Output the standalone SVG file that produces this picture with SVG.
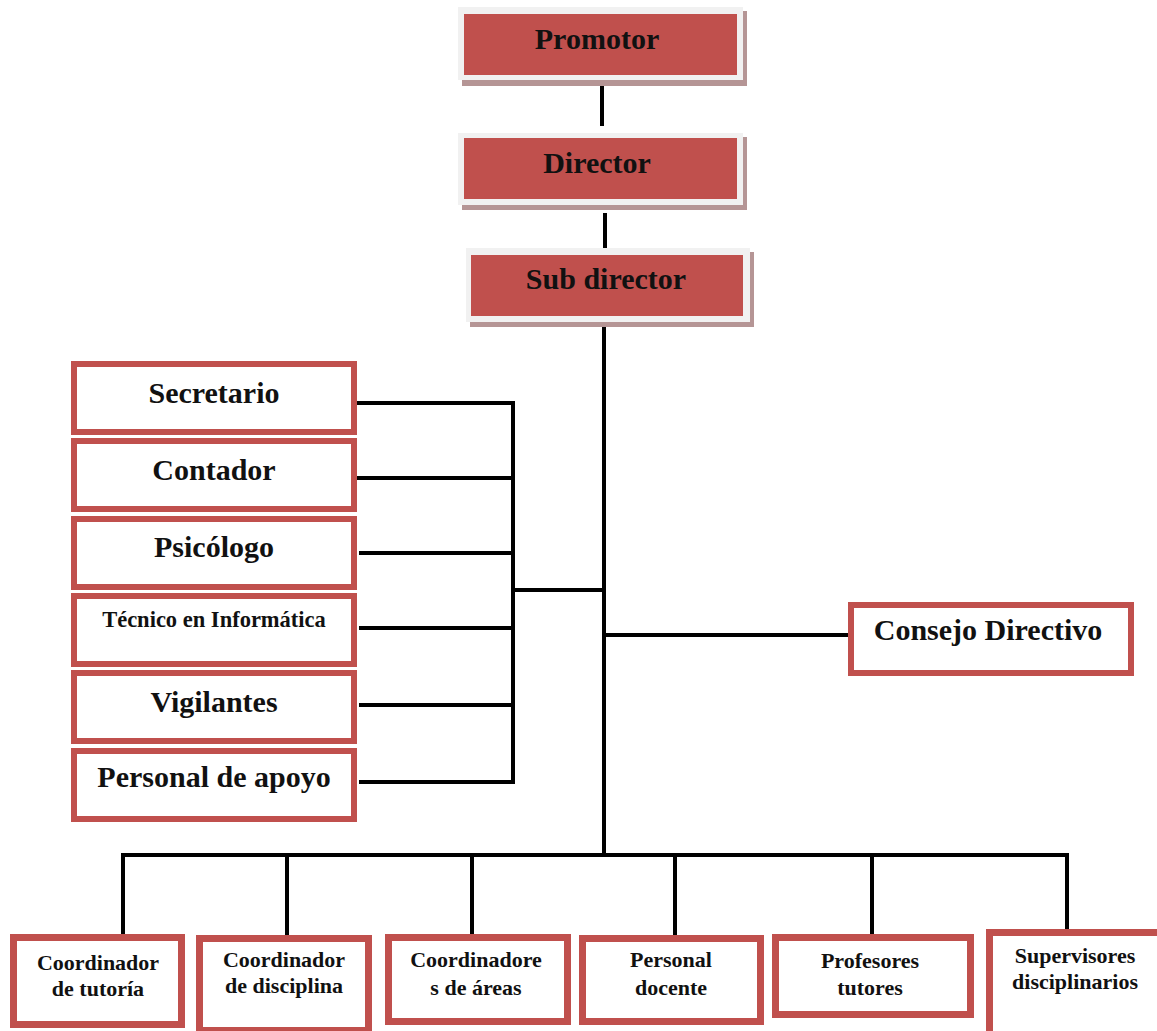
<svg xmlns="http://www.w3.org/2000/svg" width="1157" height="1031" viewBox="0 0 1157 1031">
<style>
.shadow{fill:#b59595}
.frame{fill:#f1f1f1}
.red{fill:#c0504d}
.box{fill:#ffffff;stroke:#c0504d;stroke-width:6}
.bbox{fill:#ffffff;stroke:#c0504d;stroke-width:7}
.t{font-family:'Liberation Serif','Times New Roman','DejaVu Serif',serif;font-weight:bold;fill:#111;text-anchor:middle}
.big{font-size:30px}
.small{font-size:22px}
.conn{stroke:#000;stroke-width:4;fill:none}
</style>
<rect width="1157" height="1031" fill="#ffffff"/>
<g id="connectors">
<line class="conn" x1="602" y1="86" x2="602" y2="126"/>
<line class="conn" x1="605" y1="213" x2="605" y2="252"/>
<line class="conn" x1="604" y1="324" x2="604" y2="857"/>
<polyline class="conn" points="357,403 513,403 513,782 359,782"/>
<line class="conn" x1="357" y1="478" x2="513" y2="478"/>
<line class="conn" x1="359" y1="553" x2="513" y2="553"/>
<line class="conn" x1="359" y1="628" x2="513" y2="628"/>
<line class="conn" x1="359" y1="705" x2="513" y2="705"/>
<line class="conn" x1="513" y1="590" x2="604" y2="590"/>
<line class="conn" x1="604" y1="635" x2="848" y2="635"/>
<polyline class="conn" points="123,935 123,855 1067,855 1067,930"/>
<line class="conn" x1="287" y1="855" x2="287" y2="935"/>
<line class="conn" x1="472" y1="855" x2="472" y2="935"/>
<line class="conn" x1="675" y1="855" x2="675" y2="935"/>
<line class="conn" x1="872" y1="855" x2="872" y2="935"/>
</g>
<g id="promotor">
<rect class="shadow" x="462" y="11" width="285" height="75"/>
<rect class="frame" x="458" y="7" width="285" height="73"/>
<rect class="red" x="464" y="14" width="273" height="61"/>
<text class="t big" x="597" y="49">Promotor</text>
</g>
<g id="director">
<rect class="shadow" x="462" y="137" width="285" height="73"/>
<rect class="frame" x="458" y="133" width="285" height="72"/>
<rect class="red" x="464" y="138" width="273" height="61"/>
<text class="t big" x="597" y="173">Director</text>
</g>
<g id="subdirector">
<rect class="shadow" x="470" y="252" width="284" height="75"/>
<rect class="frame" x="466" y="248" width="284" height="74"/>
<rect class="red" x="471" y="255" width="272" height="61"/>
<text class="t big" x="606" y="289">Sub director</text>
</g>
<g id="secretario">
<rect class="box" x="74" y="364" width="280" height="68"/>
<text class="t big" x="214" y="403">Secretario</text>
</g>
<g id="contador">
<rect class="box" x="74" y="441" width="280" height="68"/>
<text class="t big" x="214" y="480">Contador</text>
</g>
<g id="psicologo">
<rect class="box" x="74" y="519" width="280" height="68"/>
<text class="t big" x="214" y="557">Psicólogo</text>
</g>
<g id="tecnico">
<rect class="box" x="74" y="596" width="280" height="68"/>
<text class="t" style="font-size:22.5px" x="214" y="627">Técnico en Informática</text>
</g>
<g id="vigilantes">
<rect class="box" x="74" y="673" width="280" height="68"/>
<text class="t big" x="214" y="712">Vigilantes</text>
</g>
<g id="personal-apoyo">
<rect class="box" x="74" y="751" width="280" height="68"/>
<text class="t big" x="214" y="787">Personal de apoyo</text>
</g>
<g id="consejo">
<rect class="box" x="851" y="605" width="280" height="68"/>
<text class="t big" x="988" y="640">Consejo Directivo</text>
</g>
<g id="coord-tutoria">
<rect class="bbox" x="13.5" y="937.5" width="168" height="87"/>
<text class="t small" x="98" y="970">Coordinador</text>
<text class="t small" x="98" y="996">de tutoría</text>
</g>
<g id="coord-disciplina">
<rect class="bbox" x="199.5" y="938.5" width="169" height="92"/>
<text class="t small" x="284" y="967">Coordinador</text>
<text class="t small" x="284" y="993">de disciplina</text>
</g>
<g id="coord-areas">
<rect class="bbox" x="388.5" y="937.5" width="179" height="84"/>
<text class="t small" x="476" y="967">Coordinadore</text>
<text class="t small" x="476" y="995">s de áreas</text>
</g>
<g id="personal-docente">
<rect class="bbox" x="582.5" y="938.5" width="178" height="83"/>
<text class="t small" x="671" y="967">Personal</text>
<text class="t small" x="671" y="995">docente</text>
</g>
<g id="profesores-tutores">
<rect class="bbox" x="775.5" y="937.5" width="195" height="77"/>
<text class="t small" x="870" y="968">Profesores</text>
<text class="t small" x="870" y="995">tutores</text>
</g>
<g id="supervisores">
<rect class="bbox" x="989.5" y="932.5" width="175" height="110"/>
<text class="t small" x="1075" y="963">Supervisores</text>
<text class="t small" x="1075" y="989">disciplinarios</text>
</g>
</svg>
